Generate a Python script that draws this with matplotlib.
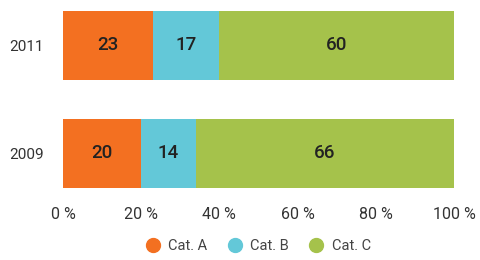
import matplotlib.pyplot as plt
from matplotlib.lines import Line2D

years = ["2009", "2011"]
cat_names = ["Cat. A", "Cat. B", "Cat. C"]
cat_a = [20, 23]
cat_b = [14, 17]
cat_c = [66, 60]
colors = ["#F37021", "#63C8D8", "#A5C24B"]

plt.rcParams['font.family'] = ['Roboto', 'DejaVu Sans']

fig = plt.figure(figsize=(4.8, 2.6), dpi=100)
ax = fig.add_axes([63 / 480, 1 - 188 / 260, 391 / 480, 177 / 260])

h = 69 / 108
ypos = list(range(len(years)))
left = [0] * len(years)
for vals, c in zip([cat_a, cat_b, cat_c], colors):
    ax.barh(ypos, vals, left=left, height=h, color=c)
    for i, v in enumerate(vals):
        ax.text(left[i] + v / 2, ypos[i], str(v), ha="center", va="center",
                fontsize=13.5, fontweight="medium", color="#222222")
    left = [l + v for l, v in zip(left, vals)]

ax.set_xlim(0, 100)
ax.set_ylim(-h / 2, 1 + h / 2)
ax.set_yticks(ypos)
ax.set_yticklabels(years, fontsize=11, color="#333333")
ax.set_xticks([0, 20, 40, 60, 80, 100])
ax.set_xticklabels(["0 %", "20 %", "40 %", "60 %", "80 %", "100 %"], fontsize=11.5, color="#333333")
ax.tick_params(axis="x", length=0, pad=14)
ax.tick_params(axis="y", length=0, pad=14)
for s in ax.spines.values():
    s.set_visible(False)

handles = [Line2D([], [], marker="o", linestyle="", markersize=10, color=c) for c in colors]
fig.legend(handles, cat_names, loc="center", bbox_to_anchor=(0.53, 1 - 246 / 260),
           ncol=3, frameon=False, fontsize=10.5, handletextpad=0.05, columnspacing=0.9,
           labelcolor="#444444")

plt.savefig("out.png", dpi=100)
